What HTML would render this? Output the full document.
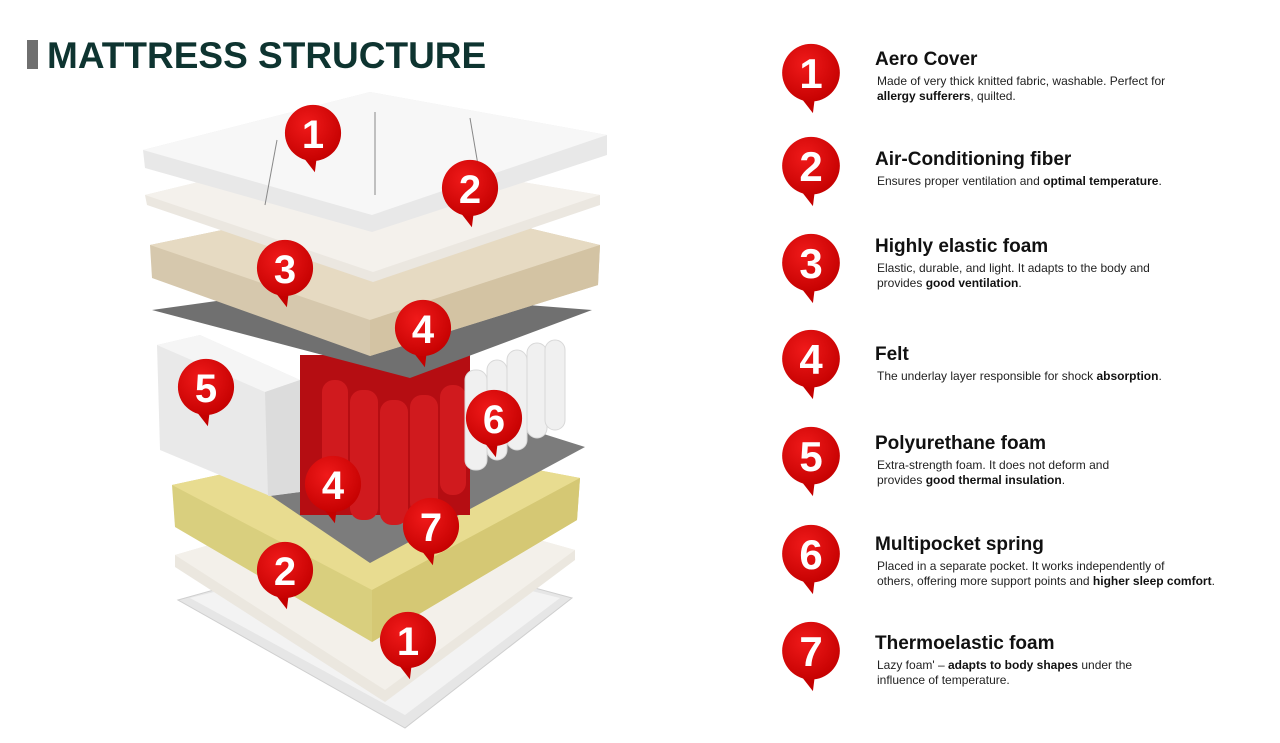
<!DOCTYPE html>
<html><head><meta charset="utf-8"><style>
html,body{margin:0;padding:0;background:#fff;}
body{width:1280px;height:743px;position:relative;overflow:hidden;font-family:"Liberation Sans",sans-serif;}
.title{position:absolute;left:27px;top:36px;font-size:37px;font-weight:bold;color:#0e3430;letter-spacing:0px;line-height:40px;}
.title .bar{display:inline-block;width:11px;height:29px;background:#6f6f6f;margin-right:9px;vertical-align:-1px;}
.item{position:absolute;left:875px;width:400px;}
.item h3{margin:0;font-size:19px;font-weight:bold;color:#111;line-height:22px;}
.item p{margin:3px 0 0 2px;font-size:12px;line-height:15px;color:#222;}
.item b{color:#111;}
svg{position:absolute;left:0;top:0;}
</style></head><body>
<svg width="1280" height="743" viewBox="0 0 1280 743">
<defs>
<radialGradient id="rg" cx="0.4" cy="0.35" r="0.7"><stop offset="0" stop-color="#f01a1a"/><stop offset="1" stop-color="#c40000"/></radialGradient>
<symbol id="pin" viewBox="-32 -32 64 78" overflow="visible">
<path d="M-12,24 L2,42 L4,26 Z" fill="#c40000"/>
<circle r="30" fill="url(#rg)"/>
</symbol>
</defs>
<!-- tray -->
<polygon points="178,600 375,545 572,598 405,728" fill="#e6e6e6" stroke="#cfcfcf"/>
<polygon points="190,598 375,552 560,598 405,715" fill="#f3f3f3"/>
<!-- bottom white layer -->
<polygon points="175,555 380,495 575,550 575,560 385,702 175,567" fill="#ebe7df"/>
<polygon points="175,555 380,495 575,550 385,690" fill="#f3f0ea"/>
<!-- yellow foam -->
<polygon points="172,485 380,440 580,478 577,520 372,642 175,527" fill="#d9cf7e"/>
<polygon points="172,485 380,440 580,478 372,590" fill="#e8dc90"/>
<polygon points="372,590 580,478 577,520 372,642" fill="#d5c874"/>
<!-- lower felt -->
<polygon points="240,475 420,395 585,447 370,563" fill="#7c7c7c"/>
<!-- springs -->
<rect x="300" y="355" width="170" height="160" fill="#b50d12"/>
<g fill="#d01a1e">
<rect x="350" y="390" width="28" height="130" rx="12"/><rect x="380" y="400" width="28" height="125" rx="12"/><rect x="410" y="395" width="28" height="120" rx="12"/><rect x="440" y="385" width="26" height="110" rx="12"/><rect x="322" y="380" width="26" height="120" rx="12"/>
</g>
<g fill="#f0f0f0" stroke="#d8d8d8">
<rect x="465" y="370" width="22" height="100" rx="10"/><rect x="487" y="360" width="20" height="100" rx="10"/><rect x="507" y="350" width="20" height="100" rx="10"/><rect x="527" y="343" width="20" height="95" rx="10"/><rect x="545" y="340" width="20" height="90" rx="10"/>
</g>
<!-- polyurethane block -->
<polygon points="157,345 200,335 300,380 300,492 270,496 160,450" fill="#e9e9e9"/>
<polygon points="157,345 200,335 300,380 265,392" fill="#f5f5f5"/>
<polygon points="265,392 300,380 300,492 268,496" fill="#dcdcdc"/>
<!-- upper felt -->
<polygon points="152,310 310,288 592,310 410,378" fill="#707070"/>
<!-- beige foam -->
<polygon points="150,245 390,195 600,245 598,285 370,356 152,278" fill="#d6c8ad"/>
<polygon points="150,245 390,195 600,245 370,320" fill="#e6dac2"/>
<polygon points="370,320 600,245 598,285 370,356" fill="#d3c3a3"/>
<!-- fiber layer -->
<polygon points="145,195 330,150 600,195 600,205 373,282 147,205" fill="#ebe7e0"/>
<polygon points="145,195 330,150 600,195 373,272" fill="#f4f1ec"/>
<!-- cover -->
<polygon points="143,150 370,92 607,135 607,155 372,232 145,168" fill="#e8e8e8"/>
<polygon points="143,150 370,92 607,135 372,215" fill="#f7f7f7"/>
<g stroke="#888" stroke-width="1" fill="none"><path d="M277,140 L265,205"/><path d="M375,112 L375,195"/><path d="M470,118 L478,165"/></g>
<!-- left pins -->
<use href="#pin" x="283" y="103" width="60" height="73"/>
<use href="#pin" x="440" y="158" width="60" height="73"/>
<use href="#pin" x="255" y="238" width="60" height="73"/>
<use href="#pin" x="393" y="298" width="60" height="73"/>
<use href="#pin" x="176" y="357" width="60" height="73"/>
<use href="#pin" x="464" y="388" width="60" height="73"/>
<use href="#pin" x="303" y="454" width="60" height="73"/>
<use href="#pin" x="401" y="496" width="60" height="73"/>
<use href="#pin" x="255" y="540" width="60" height="73"/>
<use href="#pin" x="378" y="610" width="60" height="73"/>
<g fill="#fff" font-family="Liberation Sans, sans-serif" font-weight="bold" font-size="40" text-anchor="middle">
<text x="313" y="148">1</text><text x="470" y="203">2</text><text x="285" y="283">3</text><text x="423" y="343">4</text><text x="206" y="402">5</text><text x="494" y="433">6</text><text x="333" y="499">4</text><text x="431" y="541">7</text><text x="285" y="585">2</text><text x="408" y="655">1</text>
</g>
<!-- right pins -->
<use href="#pin" x="780" y="42" width="62" height="75"/>
<use href="#pin" x="780" y="135" width="62" height="75"/>
<use href="#pin" x="780" y="232" width="62" height="75"/>
<use href="#pin" x="780" y="328" width="62" height="75"/>
<use href="#pin" x="780" y="425" width="62" height="75"/>
<use href="#pin" x="780" y="523" width="62" height="75"/>
<use href="#pin" x="780" y="620" width="62" height="75"/>
<g fill="#fff" font-family="Liberation Sans, sans-serif" font-weight="bold" font-size="42" text-anchor="middle">
<text x="811" y="88">1</text><text x="811" y="181">2</text><text x="811" y="278">3</text><text x="811" y="374">4</text><text x="811" y="471">5</text><text x="811" y="569">6</text><text x="811" y="666">7</text>
</g>
</svg>
<div class="title"><span class="bar"></span>MATTRESS STRUCTURE</div>
<div class="item" style="top:49px"><h3>Aero Cover</h3><p>Made of very thick knitted fabric, washable. Perfect for<br><b>allergy sufferers</b>, quilted.</p></div>
<div class="item" style="top:149px"><h3>Air-Conditioning fiber</h3><p>Ensures proper ventilation and <b>optimal temperature</b>.</p></div>
<div class="item" style="top:236px"><h3>Highly elastic foam</h3><p>Elastic, durable, and light. It adapts to the body and<br>provides <b>good ventilation</b>.</p></div>
<div class="item" style="top:344px"><h3>Felt</h3><p>The underlay layer responsible for shock <b>absorption</b>.</p></div>
<div class="item" style="top:433px"><h3>Polyurethane foam</h3><p>Extra-strength foam. It does not deform and<br>provides <b>good thermal insulation</b>.</p></div>
<div class="item" style="top:534px"><h3>Multipocket spring</h3><p>Placed in a separate pocket. It works independently of<br>others, offering more support points and <b>higher sleep comfort</b>.</p></div>
<div class="item" style="top:633px"><h3>Thermoelastic foam</h3><p>Lazy foam' – <b>adapts to body shapes</b> under the<br>influence of temperature.</p></div>
</body></html>
